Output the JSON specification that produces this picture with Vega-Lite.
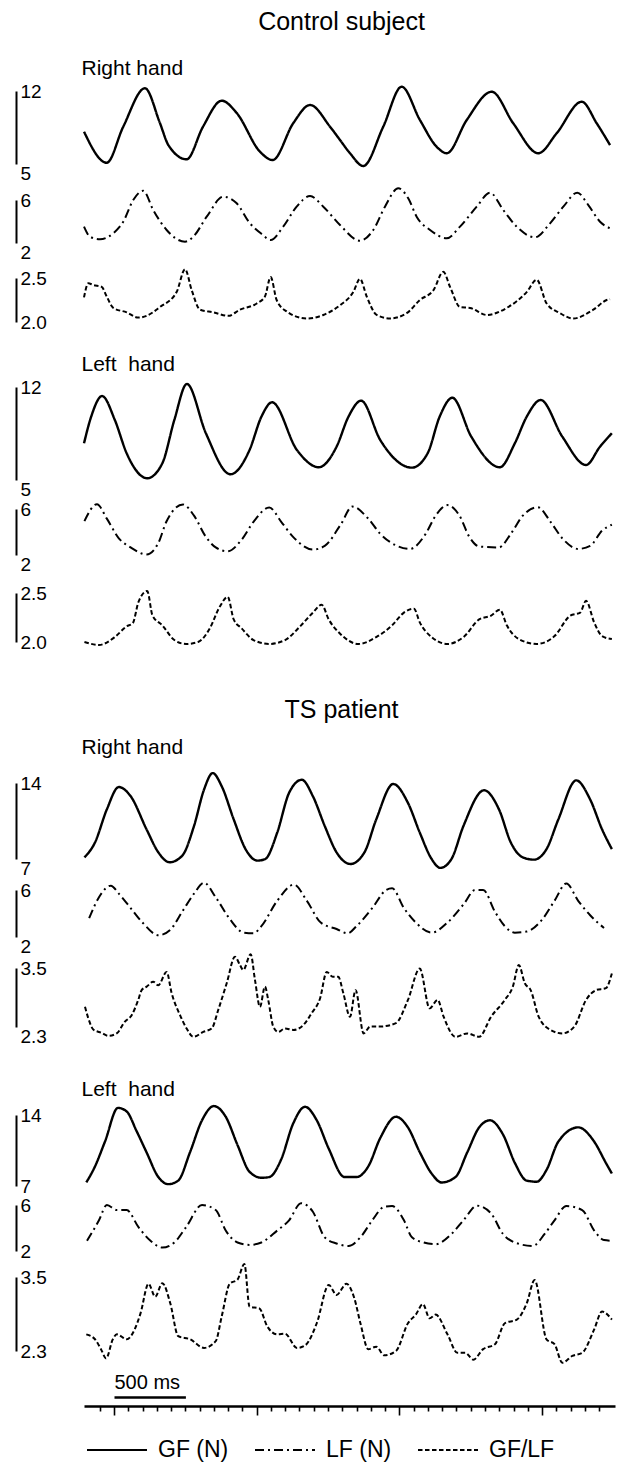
{
  "$schema": "https://vega.github.io/schema/vega-lite/v6.json",
  "width": 621,
  "height": 1464,
  "padding": 0,
  "autosize": {"type": "none"},
  "background": "white",
  "config": {
    "view": {"stroke": null},
    "font": "Liberation Sans",
    "axis": {"labelFont": "Liberation Sans", "titleFont": "Liberation Sans", "labelColor": "black", "titleColor": "black", "domainColor": "black", "tickColor": "black", "grid": false, "titleFontWeight": "normal", "labelOverlap": false},
    "legend": {"orient": "none", "legendX": 86, "legendY": 1419, "direction": "horizontal", "symbolType": "stroke", "symbolSize": 3600, "symbolStrokeWidth": 2, "symbolStrokeColor": "black", "labelFontSize": 23, "labelFont": "Liberation Sans", "labelColor": "black", "labelOffset": 10, "columnPadding": 22, "padding": 0}
  },
  "datasets": {
    "cr_gf": [{"t":-210,"v":8.10},{"t":-51,"v":5.12},{"t":65,"v":8.58},{"t":217,"v":12.26},{"t":322,"v":8.93},{"t":381,"v":6.82},{"t":509,"v":5.45},{"t":624,"v":8.58},{"t":755,"v":11.07},{"t":860,"v":9.89},{"t":1023,"v":6.18},{"t":1112,"v":5.38},{"t":1257,"v":8.93},{"t":1374,"v":10.66},{"t":1514,"v":8.58},{"t":1584,"v":7.30},{"t":1654,"v":6.03},{"t":1747,"v":4.81},{"t":1887,"v":8.58},{"t":2016,"v":12.41},{"t":2144,"v":9.22},{"t":2261,"v":6.66},{"t":2332,"v":6.03},{"t":2472,"v":9.22},{"t":2647,"v":11.93},{"t":2798,"v":8.90},{"t":2974,"v":6.03},{"t":3102,"v":7.94},{"t":3278,"v":10.97},{"t":3383,"v":8.90},{"t":3476,"v":6.82}],
    "cr_lf": [{"t":-210,"v":3.52},{"t":-168,"v":2.59},{"t":-98,"v":2.34},{"t":-5,"v":2.90},{"t":65,"v":3.98},{"t":135,"v":6.00},{"t":205,"v":6.86},{"t":275,"v":5.07},{"t":369,"v":3.21},{"t":498,"v":2.12},{"t":556,"v":2.59},{"t":650,"v":4.45},{"t":766,"v":6.31},{"t":860,"v":5.69},{"t":953,"v":3.83},{"t":1035,"v":2.84},{"t":1098,"v":2.28},{"t":1186,"v":3.52},{"t":1280,"v":5.38},{"t":1374,"v":6.37},{"t":1467,"v":5.38},{"t":1584,"v":3.67},{"t":1724,"v":2.21},{"t":1817,"v":3.21},{"t":1899,"v":5.38},{"t":1992,"v":7.09},{"t":2062,"v":6.16},{"t":2121,"v":4.45},{"t":2215,"v":3.21},{"t":2332,"v":2.44},{"t":2425,"v":3.52},{"t":2542,"v":5.38},{"t":2635,"v":6.68},{"t":2728,"v":5.07},{"t":2822,"v":3.52},{"t":2950,"v":2.53},{"t":3056,"v":3.83},{"t":3149,"v":5.38},{"t":3247,"v":6.68},{"t":3324,"v":5.53},{"t":3406,"v":3.98},{"t":3476,"v":3.37}],
    "cr_r": [{"t":-210,"v":2.28},{"t":-180,"v":2.44},{"t":-145,"v":2.42},{"t":-86,"v":2.40},{"t":-51,"v":2.29},{"t":-5,"v":2.16},{"t":89,"v":2.11},{"t":170,"v":2.05},{"t":229,"v":2.07},{"t":322,"v":2.17},{"t":439,"v":2.34},{"t":498,"v":2.60},{"t":545,"v":2.36},{"t":603,"v":2.14},{"t":696,"v":2.11},{"t":801,"v":2.07},{"t":883,"v":2.14},{"t":1000,"v":2.21},{"t":1058,"v":2.29},{"t":1098,"v":2.51},{"t":1140,"v":2.25},{"t":1210,"v":2.12},{"t":1350,"v":2.04},{"t":1467,"v":2.08},{"t":1584,"v":2.19},{"t":1677,"v":2.34},{"t":1724,"v":2.49},{"t":1771,"v":2.29},{"t":1841,"v":2.08},{"t":1934,"v":2.04},{"t":2051,"v":2.10},{"t":2144,"v":2.25},{"t":2238,"v":2.36},{"t":2308,"v":2.57},{"t":2355,"v":2.40},{"t":2425,"v":2.17},{"t":2495,"v":2.16},{"t":2612,"v":2.08},{"t":2752,"v":2.16},{"t":2892,"v":2.34},{"t":2962,"v":2.48},{"t":3032,"v":2.21},{"t":3126,"v":2.10},{"t":3219,"v":2.04},{"t":3359,"v":2.14},{"t":3453,"v":2.25},{"t":3476,"v":2.26}],
    "cl_gf": [{"t":-210,"v":7.76},{"t":-160,"v":9.76},{"t":-83,"v":11.32},{"t":6,"v":9.52},{"t":89,"v":7.01},{"t":233,"v":5.13},{"t":339,"v":6.26},{"t":423,"v":9.52},{"t":511,"v":12.23},{"t":644,"v":8.52},{"t":816,"v":5.43},{"t":950,"v":7.26},{"t":1033,"v":9.76},{"t":1108,"v":10.85},{"t":1282,"v":7.26},{"t":1435,"v":5.96},{"t":1560,"v":7.51},{"t":1643,"v":9.76},{"t":1732,"v":10.97},{"t":1866,"v":8.01},{"t":2088,"v":5.93},{"t":2198,"v":7.01},{"t":2282,"v":9.76},{"t":2371,"v":11.19},{"t":2504,"v":8.26},{"t":2704,"v":5.96},{"t":2809,"v":7.76},{"t":2892,"v":9.76},{"t":2990,"v":11.02},{"t":3142,"v":8.26},{"t":3308,"v":6.13},{"t":3406,"v":7.51},{"t":3489,"v":8.52}],
    "cl_lf": [{"t":-207,"v":4.95},{"t":-119,"v":6.42},{"t":-50,"v":5.16},{"t":34,"v":3.45},{"t":117,"v":2.66},{"t":228,"v":2.05},{"t":311,"v":3.05},{"t":367,"v":4.89},{"t":484,"v":6.39},{"t":561,"v":5.42},{"t":644,"v":3.58},{"t":713,"v":2.66},{"t":797,"v":2.32},{"t":894,"v":3.32},{"t":978,"v":4.89},{"t":1088,"v":6.13},{"t":1172,"v":4.89},{"t":1255,"v":3.58},{"t":1394,"v":2.47},{"t":1477,"v":2.79},{"t":1588,"v":4.63},{"t":1671,"v":6.21},{"t":1782,"v":5.16},{"t":1866,"v":3.84},{"t":1976,"v":2.84},{"t":2074,"v":2.53},{"t":2184,"v":3.84},{"t":2254,"v":5.42},{"t":2337,"v":6.34},{"t":2421,"v":5.42},{"t":2490,"v":3.58},{"t":2559,"v":2.74},{"t":2698,"v":2.66},{"t":2781,"v":3.84},{"t":2865,"v":5.42},{"t":2970,"v":6.16},{"t":3059,"v":4.89},{"t":3142,"v":3.45},{"t":3253,"v":2.53},{"t":3337,"v":2.79},{"t":3420,"v":4.11},{"t":3489,"v":4.63}],
    "cl_r": [{"t":-207,"v":2.00},{"t":-105,"v":1.97},{"t":6,"v":2.05},{"t":89,"v":2.16},{"t":131,"v":2.19},{"t":172,"v":2.41},{"t":233,"v":2.52},{"t":270,"v":2.27},{"t":339,"v":2.17},{"t":423,"v":2.02},{"t":505,"v":1.98},{"t":589,"v":2.00},{"t":672,"v":2.14},{"t":741,"v":2.36},{"t":797,"v":2.46},{"t":839,"v":2.23},{"t":894,"v":2.14},{"t":978,"v":2.02},{"t":1088,"v":1.98},{"t":1199,"v":2.02},{"t":1311,"v":2.17},{"t":1394,"v":2.30},{"t":1455,"v":2.38},{"t":1505,"v":2.23},{"t":1588,"v":2.08},{"t":1713,"v":1.98},{"t":1838,"v":2.05},{"t":1949,"v":2.17},{"t":2032,"v":2.30},{"t":2102,"v":2.34},{"t":2143,"v":2.20},{"t":2226,"v":2.05},{"t":2337,"v":1.98},{"t":2449,"v":2.05},{"t":2559,"v":2.23},{"t":2643,"v":2.27},{"t":2704,"v":2.33},{"t":2753,"v":2.17},{"t":2837,"v":2.03},{"t":2962,"v":1.98},{"t":3087,"v":2.06},{"t":3198,"v":2.27},{"t":3267,"v":2.30},{"t":3308,"v":2.42},{"t":3365,"v":2.20},{"t":3420,"v":2.06},{"t":3489,"v":2.03}],
    "tr_gf": [{"t":-207,"v":7.15},{"t":-133,"v":8.52},{"t":-50,"v":11.57},{"t":34,"v":13.63},{"t":117,"v":12.78},{"t":228,"v":9.74},{"t":311,"v":7.61},{"t":389,"v":6.70},{"t":478,"v":7.30},{"t":561,"v":10.04},{"t":631,"v":13.39},{"t":692,"v":14.91},{"t":755,"v":13.70},{"t":839,"v":10.65},{"t":922,"v":7.91},{"t":1005,"v":6.85},{"t":1060,"v":7.00},{"t":1144,"v":9.43},{"t":1227,"v":13.09},{"t":1316,"v":14.30},{"t":1394,"v":12.78},{"t":1477,"v":10.04},{"t":1560,"v":7.61},{"t":1657,"v":6.54},{"t":1755,"v":7.61},{"t":1838,"v":10.65},{"t":1957,"v":13.91},{"t":2060,"v":12.17},{"t":2143,"v":9.43},{"t":2226,"v":7.00},{"t":2287,"v":6.18},{"t":2365,"v":7.00},{"t":2449,"v":10.04},{"t":2593,"v":13.33},{"t":2698,"v":11.57},{"t":2781,"v":8.52},{"t":2865,"v":7.15},{"t":2943,"v":6.94},{"t":3031,"v":7.91},{"t":3114,"v":10.65},{"t":3239,"v":14.24},{"t":3337,"v":12.48},{"t":3420,"v":9.74},{"t":3489,"v":7.91}],
    "tr_lf": [{"t":-174,"v":3.60},{"t":-105,"v":5.38},{"t":-22,"v":6.37},{"t":34,"v":5.69},{"t":117,"v":4.46},{"t":200,"v":3.23},{"t":311,"v":2.15},{"t":395,"v":2.62},{"t":478,"v":4.15},{"t":561,"v":5.69},{"t":631,"v":6.62},{"t":713,"v":5.38},{"t":811,"v":3.54},{"t":908,"v":2.37},{"t":978,"v":2.31},{"t":1033,"v":2.92},{"t":1144,"v":5.08},{"t":1261,"v":6.46},{"t":1352,"v":5.08},{"t":1449,"v":3.23},{"t":1560,"v":2.68},{"t":1638,"v":2.31},{"t":1699,"v":2.92},{"t":1810,"v":4.46},{"t":1907,"v":6.00},{"t":1949,"v":6.15},{"t":2032,"v":4.46},{"t":2115,"v":3.23},{"t":2226,"v":2.37},{"t":2337,"v":3.23},{"t":2449,"v":4.77},{"t":2531,"v":6.00},{"t":2587,"v":6.00},{"t":2670,"v":4.15},{"t":2739,"v":2.92},{"t":2809,"v":2.37},{"t":2892,"v":2.46},{"t":3004,"v":3.54},{"t":3087,"v":5.08},{"t":3170,"v":6.55},{"t":3253,"v":5.08},{"t":3337,"v":3.85},{"t":3434,"v":2.77}],
    "tr_r": [{"t":-203,"v":2.71},{"t":-180,"v":2.48},{"t":-145,"v":2.25},{"t":-86,"v":2.18},{"t":-40,"v":2.12},{"t":19,"v":2.17},{"t":77,"v":2.41},{"t":124,"v":2.54},{"t":170,"v":2.85},{"t":194,"v":3.05},{"t":229,"v":3.12},{"t":275,"v":3.22},{"t":310,"v":3.15},{"t":369,"v":3.42},{"t":404,"v":2.99},{"t":463,"v":2.54},{"t":509,"v":2.27},{"t":556,"v":2.10},{"t":626,"v":2.20},{"t":685,"v":2.27},{"t":731,"v":2.65},{"t":790,"v":3.19},{"t":848,"v":3.73},{"t":883,"v":3.56},{"t":906,"v":3.46},{"t":958,"v":3.78},{"t":988,"v":3.26},{"t":1023,"v":2.71},{"t":1058,"v":3.12},{"t":1081,"v":2.85},{"t":1116,"v":2.31},{"t":1151,"v":2.20},{"t":1198,"v":2.27},{"t":1257,"v":2.24},{"t":1327,"v":2.34},{"t":1385,"v":2.58},{"t":1444,"v":2.88},{"t":1491,"v":3.42},{"t":1533,"v":3.32},{"t":1572,"v":3.32},{"t":1607,"v":2.99},{"t":1654,"v":2.51},{"t":1693,"v":3.05},{"t":1749,"v":2.17},{"t":1796,"v":2.31},{"t":1866,"v":2.31},{"t":1976,"v":2.38},{"t":2060,"v":2.85},{"t":2143,"v":3.49},{"t":2212,"v":2.68},{"t":2268,"v":2.85},{"t":2310,"v":2.51},{"t":2393,"v":2.10},{"t":2476,"v":2.17},{"t":2559,"v":2.10},{"t":2643,"v":2.51},{"t":2739,"v":2.85},{"t":2795,"v":3.12},{"t":2837,"v":3.56},{"t":2879,"v":3.19},{"t":2920,"v":3.05},{"t":2976,"v":2.51},{"t":3059,"v":2.24},{"t":3142,"v":2.17},{"t":3226,"v":2.31},{"t":3308,"v":2.85},{"t":3378,"v":3.05},{"t":3447,"v":3.09},{"t":3489,"v":3.39}],
    "tl_gf": [{"t":-194,"v":7.35},{"t":-133,"v":8.93},{"t":-63,"v":11.38},{"t":28,"v":14.70},{"t":89,"v":14.35},{"t":158,"v":12.43},{"t":228,"v":10.33},{"t":311,"v":7.88},{"t":381,"v":7.18},{"t":450,"v":7.53},{"t":533,"v":10.33},{"t":617,"v":13.48},{"t":700,"v":14.88},{"t":783,"v":13.83},{"t":866,"v":11.03},{"t":950,"v":8.40},{"t":1033,"v":7.81},{"t":1088,"v":7.88},{"t":1172,"v":9.63},{"t":1255,"v":13.13},{"t":1339,"v":14.81},{"t":1421,"v":13.48},{"t":1505,"v":10.68},{"t":1616,"v":7.88},{"t":1699,"v":7.88},{"t":1782,"v":8.93},{"t":1866,"v":11.73},{"t":1976,"v":13.83},{"t":2060,"v":12.78},{"t":2143,"v":10.33},{"t":2226,"v":8.23},{"t":2296,"v":7.35},{"t":2393,"v":7.88},{"t":2476,"v":10.33},{"t":2559,"v":12.78},{"t":2634,"v":13.48},{"t":2726,"v":12.08},{"t":2809,"v":9.28},{"t":2892,"v":7.53},{"t":2962,"v":7.42},{"t":3031,"v":8.58},{"t":3114,"v":11.38},{"t":3253,"v":12.78},{"t":3365,"v":11.38},{"t":3447,"v":9.28},{"t":3489,"v":8.23}],
    "tl_lf": [{"t":-189,"v":2.89},{"t":-105,"v":4.67},{"t":-50,"v":6.00},{"t":20,"v":5.56},{"t":89,"v":5.56},{"t":172,"v":4.07},{"t":256,"v":2.89},{"t":339,"v":2.30},{"t":423,"v":2.74},{"t":505,"v":4.07},{"t":617,"v":6.00},{"t":713,"v":5.56},{"t":783,"v":3.78},{"t":866,"v":2.74},{"t":950,"v":2.53},{"t":1033,"v":2.74},{"t":1144,"v":3.78},{"t":1227,"v":4.67},{"t":1311,"v":6.15},{"t":1394,"v":5.41},{"t":1477,"v":3.19},{"t":1560,"v":2.65},{"t":1643,"v":2.44},{"t":1727,"v":3.19},{"t":1810,"v":4.67},{"t":1894,"v":5.85},{"t":1949,"v":5.91},{"t":2032,"v":4.67},{"t":2088,"v":3.19},{"t":2171,"v":2.74},{"t":2254,"v":2.59},{"t":2365,"v":3.48},{"t":2449,"v":4.67},{"t":2545,"v":5.94},{"t":2643,"v":5.26},{"t":2726,"v":3.48},{"t":2809,"v":2.74},{"t":2934,"v":2.44},{"t":3018,"v":3.48},{"t":3087,"v":4.67},{"t":3170,"v":5.91},{"t":3281,"v":5.56},{"t":3365,"v":3.78},{"t":3434,"v":2.95},{"t":3489,"v":2.89}],
    "tl_r": [{"t":-194,"v":2.57},{"t":-133,"v":2.49},{"t":-91,"v":2.33},{"t":-55,"v":2.18},{"t":-8,"v":2.49},{"t":20,"v":2.57},{"t":89,"v":2.49},{"t":145,"v":2.65},{"t":186,"v":2.91},{"t":242,"v":3.39},{"t":289,"v":3.18},{"t":339,"v":3.40},{"t":395,"v":3.07},{"t":450,"v":2.54},{"t":533,"v":2.49},{"t":631,"v":2.35},{"t":713,"v":2.46},{"t":755,"v":2.86},{"t":811,"v":3.39},{"t":866,"v":3.46},{"t":914,"v":3.71},{"t":950,"v":3.02},{"t":1019,"v":2.99},{"t":1074,"v":2.70},{"t":1144,"v":2.57},{"t":1199,"v":2.58},{"t":1282,"v":2.35},{"t":1339,"v":2.39},{"t":1421,"v":2.75},{"t":1505,"v":3.37},{"t":1560,"v":3.21},{"t":1629,"v":3.39},{"t":1685,"v":3.15},{"t":1727,"v":2.75},{"t":1782,"v":2.33},{"t":1838,"v":2.37},{"t":1894,"v":2.23},{"t":1976,"v":2.30},{"t":2060,"v":2.75},{"t":2115,"v":2.89},{"t":2165,"v":3.06},{"t":2212,"v":2.83},{"t":2254,"v":2.89},{"t":2337,"v":2.57},{"t":2407,"v":2.27},{"t":2462,"v":2.27},{"t":2518,"v":2.16},{"t":2587,"v":2.33},{"t":2670,"v":2.41},{"t":2739,"v":2.75},{"t":2823,"v":2.81},{"t":2892,"v":3.07},{"t":2948,"v":3.45},{"t":3031,"v":2.49},{"t":3087,"v":2.41},{"t":3142,"v":2.11},{"t":3212,"v":2.22},{"t":3281,"v":2.27},{"t":3365,"v":2.65},{"t":3420,"v":2.94},{"t":3489,"v":2.81}]
  },
  "layer": [
    {
      "data": {"name": "cr_gf"},
      "mark": {"type": "line", "color": "black", "strokeWidth": 2.4, "interpolate": "monotone"},
      "encoding": {
        "x": {"field": "t", "type": "quantitative", "scale": {"domain": [-210, 3511], "range": [84, 615], "nice": false, "zero": false},
              "axis": {"orient": "bottom", "offset": -58, "values": [-100,0,100,200,300,400,500,600,700,800,900,1000,1100,1200,1300,1400,1500,1600,1700,1800,1900,2000,2100,2200,2300,2400,2500,2600,2700,2800,2900,3000,3100,3200,3300,3400], "labels": false, "title": null, "domainWidth": 2.5, "tickWidth": 1.6, "tickSize": {"condition": {"test": "datum.value % 1000 === 0", "value": 9}, "value": 5}}},
        "y": {"field": "v", "type": "quantitative", "scale": {"domain": [5, 12], "range": [164, 91], "nice": false, "zero": false},
              "axis": {"orient": "right", "offset": -605, "values": [5, 12], "format": "d", "ticks": false, "domainWidth": 2, "labelFontSize": 19, "labelPadding": 4, "labelBaseline": {"condition": {"test": "datum.value == 5", "value": "top"}, "value": "middle"},
                       "title": "Control subject", "titleX": 325, "titleY": 29, "titleAngle": 0, "titleAlign": "center", "titleBaseline": "alphabetic", "titleFontSize": 25}},
        "strokeDash": {"datum": "GF (N)", "scale": {"domain": ["GF (N)", "LF (N)", "GF/LF"], "range": [[1, 0], [9, 4, 2, 4], [4.5, 2.5]]}, "legend": {"title": null}}
      }
    },
    {
      "data": {"name": "cr_lf"},
      "mark": {"type": "line", "color": "black", "strokeWidth": 2, "interpolate": "monotone"},
      "encoding": {
        "x": {"field": "t", "type": "quantitative", "scale": {"domain": [-210, 3511], "range": [84, 615], "nice": false, "zero": false}, "axis": null},
        "y": {"field": "v", "type": "quantitative", "scale": {"domain": [2, 6], "range": [243, 200], "nice": false, "zero": false},
              "axis": {"orient": "right", "offset": -605, "values": [2, 6], "format": "d", "ticks": false, "domainWidth": 2, "labelFontSize": 19, "labelPadding": 4, "labelBaseline": {"condition": {"test": "datum.value == 2", "value": "top"}, "value": "middle"},
                       "title": "Right hand", "titleX": 65, "titleY": 74, "titleAngle": 0, "titleAlign": "left", "titleBaseline": "alphabetic", "titleFontSize": 21}},
        "strokeDash": {"datum": "LF (N)", "legend": {"title": null}}
      }
    },
    {
      "data": {"name": "cr_r"},
      "mark": {"type": "line", "color": "black", "strokeWidth": 2, "interpolate": "monotone"},
      "encoding": {
        "x": {"field": "t", "type": "quantitative", "scale": {"domain": [-210, 3511], "range": [84, 615], "nice": false, "zero": false}, "axis": null},
        "y": {"field": "v", "type": "quantitative", "scale": {"domain": [2.0, 2.5], "range": [322, 278], "nice": false, "zero": false},
              "axis": {"orient": "right", "offset": -605, "values": [2.0, 2.5], "format": ".1f", "ticks": false, "domainWidth": 2, "labelFontSize": 19, "labelPadding": 4, "labelBaseline": "middle", "title": null}},
        "strokeDash": {"datum": "GF/LF", "legend": {"title": null}}
      }
    },
    {
      "data": {"name": "cl_gf"},
      "mark": {"type": "line", "color": "black", "strokeWidth": 2.4, "interpolate": "monotone"},
      "encoding": {
        "x": {"field": "t", "type": "quantitative", "scale": {"domain": [-210, 3511], "range": [84, 615], "nice": false, "zero": false}, "axis": null},
        "y": {"field": "v", "type": "quantitative", "scale": {"domain": [5, 12], "range": [480, 387], "nice": false, "zero": false},
              "axis": {"orient": "right", "offset": -605, "values": [5, 12], "format": "d", "ticks": false, "domainWidth": 2, "labelFontSize": 19, "labelPadding": 4, "labelBaseline": {"condition": {"test": "datum.value == 5", "value": "top"}, "value": "middle"},
                       "title": "Left\u00a0 hand", "titleX": 65, "titleY": 370, "titleAngle": 0, "titleAlign": "left", "titleBaseline": "alphabetic", "titleFontSize": 21}},
        "strokeDash": {"datum": "GF (N)", "legend": {"title": null}}
      }
    },
    {
      "data": {"name": "cl_lf"},
      "mark": {"type": "line", "color": "black", "strokeWidth": 2, "interpolate": "monotone"},
      "encoding": {
        "x": {"field": "t", "type": "quantitative", "scale": {"domain": [-210, 3511], "range": [84, 615], "nice": false, "zero": false}, "axis": null},
        "y": {"field": "v", "type": "quantitative", "scale": {"domain": [2, 6], "range": [555, 509], "nice": false, "zero": false},
              "axis": {"orient": "right", "offset": -605, "values": [2, 6], "format": "d", "ticks": false, "domainWidth": 2, "labelFontSize": 19, "labelPadding": 4, "labelBaseline": {"condition": {"test": "datum.value == 2", "value": "top"}, "value": "middle"}, "title": null}},
        "strokeDash": {"datum": "LF (N)", "legend": {"title": null}}
      }
    },
    {
      "data": {"name": "cl_r"},
      "mark": {"type": "line", "color": "black", "strokeWidth": 2, "interpolate": "monotone"},
      "encoding": {
        "x": {"field": "t", "type": "quantitative", "scale": {"domain": [-210, 3511], "range": [84, 615], "nice": false, "zero": false}, "axis": null},
        "y": {"field": "v", "type": "quantitative", "scale": {"domain": [2.0, 2.5], "range": [642, 593], "nice": false, "zero": false},
              "axis": {"orient": "right", "offset": -605, "values": [2.0, 2.5], "format": ".1f", "ticks": false, "domainWidth": 2, "labelFontSize": 19, "labelPadding": 4, "labelBaseline": "middle", "title": null}},
        "strokeDash": {"datum": "GF/LF", "legend": {"title": null}}
      }
    },
    {
      "data": {"name": "tr_gf"},
      "mark": {"type": "line", "color": "black", "strokeWidth": 2.4, "interpolate": "monotone"},
      "encoding": {
        "x": {"field": "t", "type": "quantitative", "scale": {"domain": [-210, 3511], "range": [84, 615], "nice": false, "zero": false}, "axis": null},
        "y": {"field": "v", "type": "quantitative", "scale": {"domain": [7, 14], "range": [859, 783], "nice": false, "zero": false},
              "axis": {"orient": "right", "offset": -605, "values": [7, 14], "format": "d", "ticks": false, "domainWidth": 2, "labelFontSize": 19, "labelPadding": 4, "labelBaseline": {"condition": {"test": "datum.value == 7", "value": "top"}, "value": "middle"},
                       "title": "TS patient", "titleX": 325, "titleY": 717, "titleAngle": 0, "titleAlign": "center", "titleBaseline": "alphabetic", "titleFontSize": 25}},
        "strokeDash": {"datum": "GF (N)", "legend": {"title": null}}
      }
    },
    {
      "data": {"name": "tr_lf"},
      "mark": {"type": "line", "color": "black", "strokeWidth": 2, "interpolate": "monotone"},
      "encoding": {
        "x": {"field": "t", "type": "quantitative", "scale": {"domain": [-210, 3511], "range": [84, 615], "nice": false, "zero": false}, "axis": null},
        "y": {"field": "v", "type": "quantitative", "scale": {"domain": [2, 6], "range": [937, 890], "nice": false, "zero": false},
              "axis": {"orient": "right", "offset": -605, "values": [2, 6], "format": "d", "ticks": false, "domainWidth": 2, "labelFontSize": 19, "labelPadding": 4, "labelBaseline": {"condition": {"test": "datum.value == 2", "value": "top"}, "value": "middle"},
                       "title": "Right hand", "titleX": 65, "titleY": 753, "titleAngle": 0, "titleAlign": "left", "titleBaseline": "alphabetic", "titleFontSize": 21}},
        "strokeDash": {"datum": "LF (N)", "legend": {"title": null}}
      }
    },
    {
      "data": {"name": "tr_r"},
      "mark": {"type": "line", "color": "black", "strokeWidth": 2, "interpolate": "monotone"},
      "encoding": {
        "x": {"field": "t", "type": "quantitative", "scale": {"domain": [-210, 3511], "range": [84, 615], "nice": false, "zero": false}, "axis": null},
        "y": {"field": "v", "type": "quantitative", "scale": {"domain": [2.3, 3.5], "range": [1027, 968], "nice": false, "zero": false},
              "axis": {"orient": "right", "offset": -605, "values": [2.3, 3.5], "format": ".1f", "ticks": false, "domainWidth": 2, "labelFontSize": 19, "labelPadding": 4, "labelBaseline": {"condition": {"test": "datum.value < 3", "value": "top"}, "value": "middle"}, "title": null}},
        "strokeDash": {"datum": "GF/LF", "legend": {"title": null}}
      }
    },
    {
      "data": {"name": "tl_gf"},
      "mark": {"type": "line", "color": "black", "strokeWidth": 2.4, "interpolate": "monotone"},
      "encoding": {
        "x": {"field": "t", "type": "quantitative", "scale": {"domain": [-210, 3511], "range": [84, 615], "nice": false, "zero": false}, "axis": null},
        "y": {"field": "v", "type": "quantitative", "scale": {"domain": [7, 14], "range": [1186, 1115], "nice": false, "zero": false},
              "axis": {"orient": "right", "offset": -605, "values": [7, 14], "format": "d", "ticks": false, "domainWidth": 2, "labelFontSize": 19, "labelPadding": 4, "labelBaseline": "middle",
                       "title": "Left\u00a0 hand", "titleX": 65, "titleY": 1095, "titleAngle": 0, "titleAlign": "left", "titleBaseline": "alphabetic", "titleFontSize": 21}},
        "strokeDash": {"datum": "GF (N)", "legend": {"title": null}}
      }
    },
    {
      "data": {"name": "tl_lf"},
      "mark": {"type": "line", "color": "black", "strokeWidth": 2, "interpolate": "monotone"},
      "encoding": {
        "x": {"field": "t", "type": "quantitative", "scale": {"domain": [-210, 3511], "range": [84, 615], "nice": false, "zero": false}, "axis": null},
        "y": {"field": "v", "type": "quantitative", "scale": {"domain": [2, 6], "range": [1251, 1205], "nice": false, "zero": false},
              "axis": {"orient": "right", "offset": -605, "values": [2, 6], "format": "d", "ticks": false, "domainWidth": 2, "labelFontSize": 19, "labelPadding": 4, "labelBaseline": "middle", "title": null}},
        "strokeDash": {"datum": "LF (N)", "legend": {"title": null}}
      }
    },
    {
      "data": {"name": "tl_r"},
      "mark": {"type": "line", "color": "black", "strokeWidth": 2, "interpolate": "monotone"},
      "encoding": {
        "x": {"field": "t", "type": "quantitative", "scale": {"domain": [-210, 3511], "range": [84, 615], "nice": false, "zero": false}, "axis": null},
        "y": {"field": "v", "type": "quantitative", "scale": {"domain": [2.3, 3.5], "range": [1351, 1277], "nice": false, "zero": false},
              "axis": {"orient": "right", "offset": -605, "values": [2.3, 3.5], "format": ".1f", "ticks": false, "domainWidth": 2, "labelFontSize": 19, "labelPadding": 4, "labelBaseline": "middle", "title": null}},
        "strokeDash": {"datum": "GF/LF", "legend": {"title": null}}
      }
    },
    {
      "data": {"values": [{"t": 0}, {"t": 500}]},
      "mark": {"type": "point", "opacity": 0},
      "encoding": {
        "x": {"field": "t", "type": "quantitative", "scale": {"domain": [0, 500], "range": [114, 185.4], "nice": false, "zero": false},
              "axis": {"orient": "bottom", "offset": -67, "domain": true, "domainWidth": 2.5, "ticks": false, "labels": false, "title": "500 ms", "titleX": 114, "titleY": -9, "titleAlign": "left", "titleBaseline": "alphabetic", "titleFontSize": 20}}
      }
    }
  ],
  "resolve": {"scale": {"x": "independent", "y": "independent"}, "axis": {"x": "independent", "y": "independent"}}
}
